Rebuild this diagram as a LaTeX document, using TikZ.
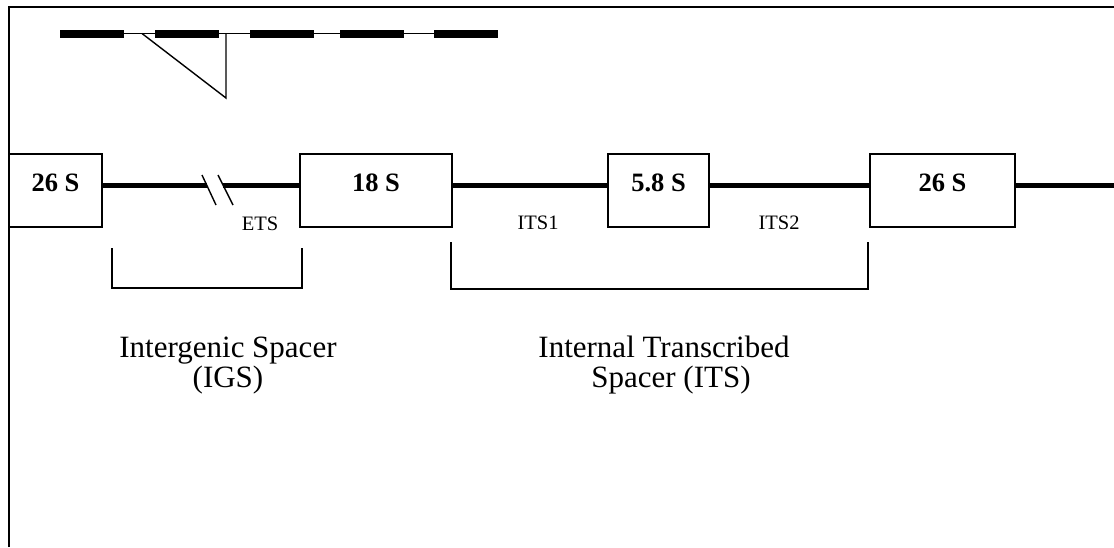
\documentclass[tikz,border=0pt]{standalone}
\usepackage{fontspec}
\setmainfont{Liberation Serif}
\begin{document}
\begin{tikzpicture}[x=1pt,y=-1pt,
  gene/.style={draw,line width=1.3pt,inner xsep=0pt,inner ysep=0pt,
    text height=37pt,text depth=36pt,
    font=\fontsize{26.5}{30}\selectfont\bfseries},
  spacer/.style={line width=5pt},
  brk/.style={line width=1.4pt},
  bracket/.style={line width=1.4pt},
  tag/.style={anchor=base,inner sep=0pt,font=\fontsize{20.5}{24}\selectfont},
  caption/.style={anchor=base,inner sep=0pt,font=\fontsize{31}{36}\selectfont},
  bar/.style={fill=black}]
\useasboundingbox (0,0) rectangle (1114,547);

% frame
\draw[line width=2pt] (9,547) -- (9,7) -- (1114,7);

% repeat units with an inserted fragment
\draw[line width=1.5pt] (60,33.5) -- (498,33.5);
\fill[bar] (60,30) rectangle (124,38);
\fill[bar] (155,30) rectangle (219,38);
\fill[bar] (250,30) rectangle (314,38);
\fill[bar] (340,30) rectangle (404,38);
\fill[bar] (434,30) rectangle (498,38);
\coordinate (insA) at (142,33.5);
\coordinate (insB) at (226,98);
\coordinate (insC) at (226,33.5);
\draw[line width=1.4pt] (insA) -- (insB) -- (insC);

% rDNA genes
\node[gene,minimum width=93pt]  (g26a) at (55.5,190.5) {26 S};
\node[gene,minimum width=152pt] (g18)  at (376,190.5) {18 S};
\node[gene,minimum width=101pt] (g58)  at (658.5,190.5) {5.8 S};
\node[gene,minimum width=145pt] (g26b) at (942.5,190.5) {26 S};
\coordinate (brkL) at (206.7,185);
\coordinate (brkR) at (223,185);
\coordinate (tail) at (1114,185);

% spacers
\draw[spacer] ([yshift=5.5pt]g26a.east) -- (brkL);
\draw[spacer] (brkR) -- ([yshift=5.5pt]g18.west);
\draw[spacer] ([yshift=5.5pt]g18.east) -- ([yshift=5.5pt]g58.west);
\draw[spacer] ([yshift=5.5pt]g58.east) -- ([yshift=5.5pt]g26b.west);
\draw[spacer] ([yshift=5.5pt]g26b.east) -- (tail);

% break marks
\draw[brk] (202,175) -- (216,205);
\draw[brk] (218,175) -- (233,205);

% spacer labels
\node[tag] (ets)  at (260,230) {ETS};
\node[tag] (its1) at (538,229) {ITS1};
\node[tag] (its2) at (779,229) {ITS2};

% brackets
\draw[bracket] (112,248) -- (112,288) -- (302,288) -- (302,248);
\draw[bracket] (451,242) -- (451,289) -- (868,289) -- (868,242);

% captions
\node[caption] (igsA) at (228,357) {Intergenic Spacer};
\node[caption] (igsB) at (228,387) {(IGS)};
\node[caption] (itsA) at (664,357) {Internal Transcribed};
\node[caption] (itsB) at (671,387) {Spacer (ITS)};
\end{tikzpicture}
\end{document}
